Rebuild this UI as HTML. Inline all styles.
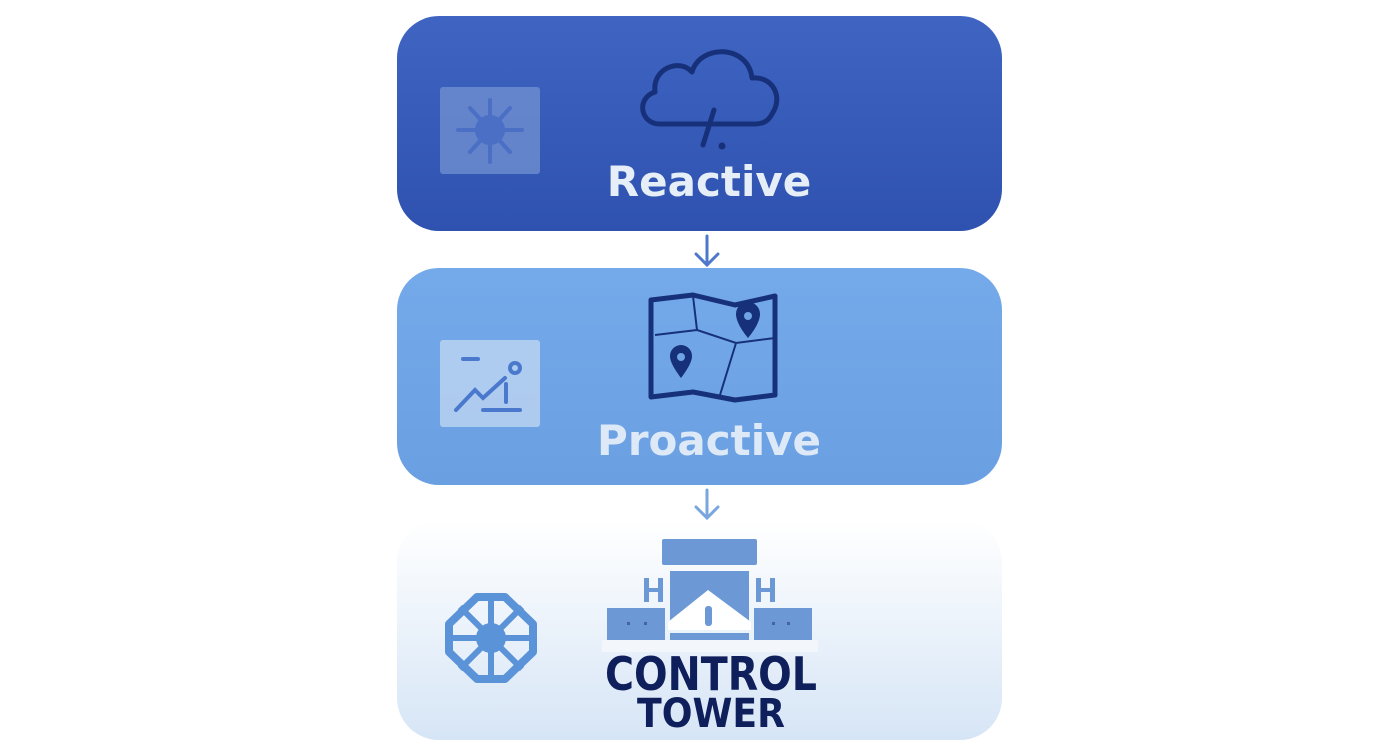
<!DOCTYPE html>
<html><head><style>
html,body{margin:0;padding:0;background:#fff;width:1392px;height:752px;overflow:hidden}
</style></head><body>
<svg width="1392" height="752" viewBox="0 0 1392 752" xmlns="http://www.w3.org/2000/svg">
<defs>
<linearGradient id="g1" x1="0" y1="0" x2="0" y2="1"><stop offset="0" stop-color="#3f64c2"/><stop offset="1" stop-color="#2f52b0"/></linearGradient>
<linearGradient id="g2" x1="0" y1="0" x2="0" y2="1"><stop offset="0" stop-color="#74aaea"/><stop offset="1" stop-color="#6aa0e2"/></linearGradient>
<linearGradient id="g3" x1="0" y1="0" x2="0" y2="1"><stop offset="0" stop-color="#ffffff"/><stop offset="1" stop-color="#d6e5f6"/></linearGradient>
</defs>
<rect x="397" y="16" width="605" height="215" rx="42" fill="url(#g1)"/>
<rect x="397" y="268" width="605" height="217" rx="42" fill="url(#g2)"/>
<rect x="397" y="520" width="605" height="220" rx="42" fill="url(#g3)"/>
<g stroke="#4d78cc" stroke-width="3" fill="none" stroke-linecap="round">
<path d="M707 236 V264 M696 254 L707 265 L718 254"/>
<path d="M707 490 V517 M696 507 L707 518 L718 507" stroke="#7aa6e0"/>
</g>
<!-- box1 icon -->
<rect x="440" y="87" width="100" height="87" rx="3" fill="#7391d2" opacity="0.75"/>
<g fill="#4a6fc4" stroke="#4a6fc4" stroke-width="4" stroke-linecap="round">
<circle cx="490" cy="130" r="15" stroke="none"/>
<path d="M490 130 L490 100 M490 130 L510 108 M490 130 L522 130 M490 130 L510 152 M490 130 L490 162 M490 130 L470 152 M490 130 L458 130 M490 130 L470 108" fill="none"/>
</g>
<!-- cloud -->
<path d="M660 124 C640 124 636 98 655 92 C652 68 680 58 692 72 C700 44 748 44 752 78 C772 76 784 96 772 114 C768 122 762 124 754 124 Z" fill="none" stroke="#17307a" stroke-width="5" stroke-linejoin="round"/>
<path d="M714 110 L703 145" stroke="#17307a" stroke-width="5" stroke-linecap="round"/>
<circle cx="722" cy="146" r="3.5" fill="#17307a"/>
<text x="709" y="196" text-anchor="middle" font-family="'DejaVu Sans','Liberation Sans',sans-serif" font-weight="bold" font-size="42" fill="#e6eef8">Reactive</text>
<!-- box2 icon -->
<rect x="440" y="340" width="100" height="87" rx="3" fill="#c9dcf3" opacity="0.7"/>
<g stroke="#4a78cc" stroke-width="4" fill="none" stroke-linecap="round">
<path d="M463 359 H478 M456 410 L475 390 L483 398 L505 378 M483 410 H520 M506 384 V402"/>
<circle cx="515" cy="368" r="5"/>
</g>
<!-- map -->
<path d="M651 300 L693 295 L735 305 L775 296 L775 395 L735 400 L693 392 L651 397 Z" fill="none" stroke="#17307a" stroke-width="5" stroke-linejoin="round"/>
<path d="M693 296 L697 330 L736 343 L775 338 M655 335 L697 330 M736 343 L720 395" fill="none" stroke="#17307a" stroke-width="2"/>
<path d="M748 338 C738 326 736 318 736 314 A12 12 0 0 1 760 314 C760 318 758 326 748 338Z" fill="#17307a"/><circle cx="748" cy="316" r="4" fill="#6fa4e4"/>
<path d="M681 378 C672 366 670 360 670 356 A11 11 0 0 1 692 356 C692 360 690 366 681 378Z" fill="#17307a"/><circle cx="681" cy="357" r="4" fill="#6fa4e4"/>
<text x="709" y="455" text-anchor="middle" font-family="'DejaVu Sans','Liberation Sans',sans-serif" font-weight="bold" font-size="42" fill="#dde9f7">Proactive</text>
<!-- octagon wheel -->
<polygon points="477,597 505,597 533,624 533,652 505,679 477,679 449,652 449,624" fill="none" stroke="#5b93d9" stroke-width="8" stroke-linejoin="round"/>
<g stroke="#5b93d9" stroke-width="6"><path d="M491 594 V682 M446 638 H536 M460 607 L522 669 M522 607 L460 669"/></g>
<circle cx="491" cy="638" r="15" fill="#5b93d9"/>
<!-- tower -->
<g fill="#6c98d6">
<rect x="662" y="539" width="95" height="26" rx="2"/>
<rect x="670" y="571" width="79" height="59"/>
<rect x="607" y="608" width="58" height="32"/>
<rect x="754" y="608" width="58" height="32"/>
<rect x="670" y="633" width="79" height="7"/>
</g>
<polygon points="668,622 708,590 751,622 751,630 668,630" fill="#fff"/>
<rect x="705" y="606" width="7" height="20" rx="3" fill="#6c98d6"/>
<g fill="#46649e"><rect x="627" y="622" width="3" height="3"/><rect x="644" y="622" width="3" height="3"/><rect x="772" y="622" width="3" height="3"/><rect x="787" y="622" width="3" height="3"/></g>
<g fill="#6c98d6"><rect x="644" y="578" width="5" height="24"/><rect x="658" y="578" width="5" height="24"/><rect x="644" y="588" width="19" height="4"/>
<rect x="756" y="578" width="5" height="24"/><rect x="770" y="578" width="5" height="24"/><rect x="756" y="588" width="19" height="4"/></g>
<rect x="602" y="640" width="216" height="12" fill="#f3f7fc"/>
<text x="711" y="690" text-anchor="middle" font-family="'DejaVu Sans','Liberation Sans',sans-serif" font-weight="bold" font-size="46" fill="#0f1f5c" textLength="212" lengthAdjust="spacingAndGlyphs">CONTROL</text>
<text x="711" y="727" text-anchor="middle" font-family="'DejaVu Sans','Liberation Sans',sans-serif" font-weight="bold" font-size="40" fill="#0f1f5c" textLength="148" lengthAdjust="spacingAndGlyphs">TOWER</text>
</svg>
</body></html>
